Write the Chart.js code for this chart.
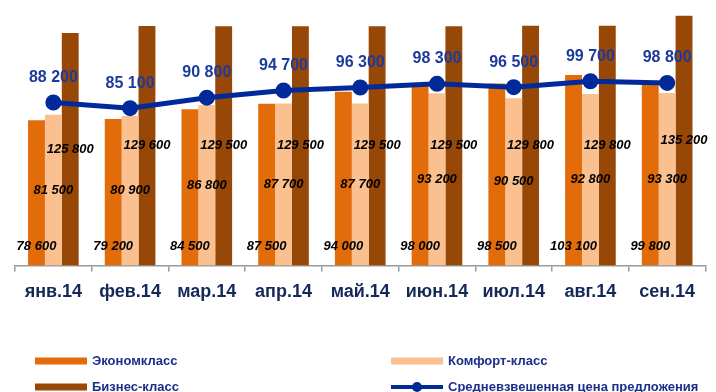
<!DOCTYPE html>
<html>
<head>
<meta charset="utf-8">
<script src="https://cdn.jsdelivr.net/npm/chart.js@4/dist/chart.umd.min.js"></script>
<style>
  html, body { margin: 0; padding: 0; background: #fff; }
  canvas { display: block; }
</style>
</head>
<body>
<canvas id="chart" width="716" height="392"></canvas>
<script>
const months = ["янв.14", "фев.14", "мар.14", "апр.14", "май.14", "июн.14", "июл.14", "авг.14", "сен.14"]
const economy = [78600, 79200, 84500, 87500, 94000, 98000, 98500, 103100, 99800]
const comfort = [81500, 80900, 86800, 87700, 87700, 93200, 90500, 92800, 93300]
const business = [125800, 129600, 129500, 129500, 129500, 129500, 129800, 129800, 135200]
const avgPrice = [88200, 85100, 90800, 94700, 96300, 98300, 96500, 99700, 98800]

const FONT = "'Liberation Sans', Arial, sans-serif"
const fmt = (v) => String(v).replace(/\B(?=(\d{3})+(?!\d))/g, " ")

// value labels on bars and on the line
const valueLabels = {
  id: "valueLabels",
  afterDatasetsDraw(chart) {
    const ctx = chart.ctx
    ctx.save()
    ctx.textAlign = "center"
    ctx.textBaseline = "middle"
    chart.data.datasets.forEach((ds, i) => {
      const meta = chart.getDatasetMeta(i)
      meta.data.forEach((el, j) => {
        const v = ds.data[j]
        if (ds.type === "line") {
          ctx.font = "bold 16px " + FONT
          ctx.fillStyle = "#1d3a9c"
          ctx.fillText(fmt(v), el.x, el.y - 25)
        } else {
          ctx.font = "italic bold 13px " + FONT
          ctx.fillStyle = "#000"
          const y = ds.labelPos === "base" ? el.base - 19 : (el.y + el.base) / 2
          ctx.fillText(fmt(v), el.x, y)
        }
      })
    })
    ctx.restore()
  }
}

// two-column legend under the axis
const bottomLegend = {
  id: "bottomLegend",
  afterDraw(chart) {
    const ctx = chart.ctx
    const slots = [[35, 361], [391, 361], [35, 387], [391, 387]]
    ctx.save()
    ctx.font = "bold 13px " + FONT
    ctx.textBaseline = "middle"
    ctx.textAlign = "left"
    chart.data.datasets.forEach((ds, k) => {
      const [x, y] = slots[k]
      if (ds.type === "line") {
        ctx.strokeStyle = ds.borderColor
        ctx.lineWidth = 4
        ctx.beginPath()
        ctx.moveTo(x, y)
        ctx.lineTo(x + 52, y)
        ctx.stroke()
        ctx.fillStyle = ds.borderColor
        ctx.beginPath()
        ctx.arc(x + 26, y, 5, 0, Math.PI * 2)
        ctx.fill()
      } else {
        ctx.fillStyle = ds.backgroundColor
        ctx.fillRect(x, y - 3.5, 52, 7)
      }
      ctx.fillStyle = "#1a2f8a"
      ctx.fillText(ds.label, x + 57, y)
    })
    ctx.restore()
  }
}

new Chart(document.getElementById("chart"), {
  data: {
    labels: months,
    datasets: [
      { type: "bar", label: "Экономкласс", data: economy, backgroundColor: "#e36c0a", labelPos: "base", order: 1 },
      { type: "bar", label: "Комфорт-класс", data: comfort, backgroundColor: "#fac090", labelPos: "mid", order: 1 },
      { type: "bar", label: "Бизнес-класс", data: business, backgroundColor: "#974806", labelPos: "mid", order: 1 },
      {
        type: "line", label: "Средневзвешенная цена предложения", data: avgPrice,
        borderColor: "#00299a", backgroundColor: "#00299a", borderWidth: 5,
        pointRadius: 5.5, pointHoverRadius: 5.5, tension: 0, order: 0
      }
    ]
  },
  options: {
    responsive: false,
    animation: false,
    devicePixelRatio: 1,
    layout: { padding: { left: 15, right: 3, top: 4, bottom: 79 } },
    datasets: { bar: { categoryPercentage: 0.66, barPercentage: 1.0 } },
    plugins: { legend: { display: false }, tooltip: { enabled: false } },
    scales: {
      x: {
        grid: { offset: true, drawOnChartArea: false, drawTicks: true, tickLength: 6, color: "#9a9a9a", lineWidth: 1.5 },
        border: { color: "#9a9a9a", width: 1.5 },
        ticks: { color: "#14285a", padding: 10, font: { family: FONT, size: 18, weight: "bold" }, maxRotation: 0 }
      },
      y: { display: false, min: 0, max: 138000 }
    }
  },
  plugins: [valueLabels, bottomLegend]
})
</script>
</body>
</html>
